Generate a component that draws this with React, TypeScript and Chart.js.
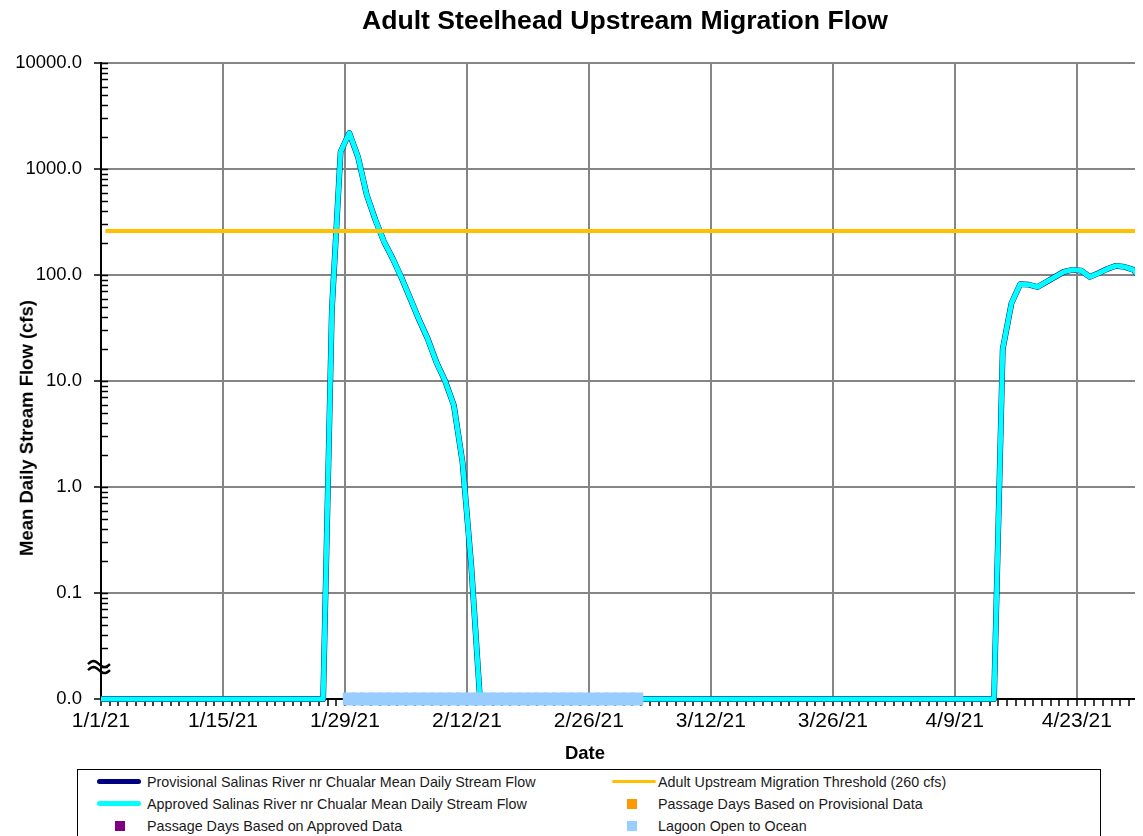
import React, { useEffect, useRef } from 'react';
import { Chart, registerables } from 'chart.js';

Chart.register(...registerables);

// ---------- data ----------
// Day offsets are counted from 1/1/21 (day 0). The series starts on 12/31/20 (day -1).
const firstDay = -1;
// Mean daily stream flow (cfs), approved record, one value per day from 12/31/20 to 4/30/21
const approvedFlow: number[] = [
  0, 0, 0, 0, 0, 0, 0, 0, 0, 0,
  0, 0, 0, 0, 0, 0, 0, 0, 0, 0,
  0, 0, 0, 0, 0, 0, 0,
  47, 1450, 2190, 1300, 570, 330, 205, 142, 94, 60, 38, 25, 15, 10, 5.9, 1.7, 0.18,
  0, 0, 0, 0, 0, 0, 0, 0, 0, 0,
  0, 0, 0, 0, 0, 0, 0, 0, 0, 0,
  0, 0, 0, 0, 0, 0, 0, 0, 0, 0,
  0, 0, 0, 0, 0, 0, 0, 0, 0, 0,
  0, 0, 0, 0, 0, 0, 0, 0, 0, 0,
  0, 0, 0, 0, 0, 0, 0, 0, 0, 0,
  20, 54, 82, 81, 77, 86, 96, 107, 112, 110, 96, 104, 114, 122, 119, 112, 88,
];
// Provisional record (same values as the approved record over this window)
const provisionalFlow: number[] = approvedFlow.slice();
// Days on which the lagoon was open to the ocean (1/29/21 - 3/3/21)
const lagoonOpenDays: number[] = [
  28, 29, 30, 31, 32, 33, 34, 35, 36, 37, 38, 39, 40, 41, 42, 43, 44,
  45, 46, 47, 48, 49, 50, 51, 52, 53, 54, 55, 56, 57, 58, 59, 60, 61,
];
const passageDaysApproved: number[] = [];
const passageDaysProvisional: number[] = [];
const thresholdCfs = 260;

const tickDays: number[] = [0, 14, 28, 42, 56, 70, 84, 98, 112];
const tickLabels: string[] = ['1/1/21', '1/15/21', '1/29/21', '2/12/21', '2/26/21', '3/12/21', '3/26/21', '4/9/21', '4/23/21'];

const Y_MIN = 0.01;
const Y_MAX = 10000;
const X_MAX = 119.6;

// ---------- styles ----------
const FONT = '"Liberation Sans", Arial, sans-serif';
const GRID = '#858585';
const CYAN = '#00FFFF';
const NAVY = '#000080';
const GOLD = '#FFC000';
const LAGOON = '#99CCFF';
const PURPLE = '#800080';
const ORANGE = '#FF9900';

const isDecade = (v: number) => {
  const l = Math.log10(v);
  return Math.abs(l - Math.round(l)) < 1e-7;
};

const innerTicksPlugin = {
  id: 'innerTicks',
  beforeDatasetsDraw(chart: any) {
    const y = chart.scales.y;
    const ctx = chart.ctx;
    const left = chart.chartArea.left;
    ctx.save();
    ctx.strokeStyle = '#000';
    ctx.lineWidth = 1.5;
    y.ticks.forEach((t: any) => {
      const py = Math.round(y.getPixelForValue(t.value)) + 0.5;
      ctx.beginPath();
      ctx.moveTo(left, py);
      ctx.lineTo(left + 7, py);
      ctx.stroke();
    });
    ctx.restore();
  },
  afterDraw(chart: any) {
    // axis break symbol just above the zero line
    const ctx = chart.ctx;
    const cx = chart.chartArea.left - 2;
    const cy = chart.scales.y.getPixelForValue(0.02);
    ctx.save();
    ctx.strokeStyle = '#000';
    ctx.lineWidth = 2.5;
    [-3, 3].forEach((dy) => {
      ctx.beginPath();
      for (let i = 0; i <= 20; i++) {
        const px = cx - 11 + i * 1.1;
        const py = cy + dy - 3 * Math.sin((i / 20) * Math.PI * 2);
        if (i === 0) ctx.moveTo(px, py);
        else ctx.lineTo(px, py);
      }
      ctx.stroke();
    });
    ctx.restore();
  },
};

function LegendLine({ x, y, color, w }: { x: number; y: number; color: string; w: number }) {
  return (
    <div
      style={{
        position: 'absolute',
        left: x,
        top: y - w / 2,
        width: 44,
        height: w,
        borderRadius: w / 2,
        background: color,
      }}
    />
  );
}

function LegendSquare({ x, y, color }: { x: number; y: number; color: string }) {
  return <div style={{ position: 'absolute', left: x - 5, top: y - 5, width: 10, height: 10, background: color }} />;
}

function LegendText({ x, y, text }: { x: number; y: number; text: string }) {
  return (
    <div
      style={{
        position: 'absolute',
        left: x,
        top: y,
        transform: 'translateY(-50%)',
        fontFamily: FONT,
        fontSize: 14.3,
        lineHeight: 1,
        whiteSpace: 'nowrap',
        color: '#1a1a1a',
      }}
    >
      {text}
    </div>
  );
}

export default function App() {
  const ref = useRef<HTMLCanvasElement>(null);

  useEffect(() => {
    document.documentElement.style.overflow = 'hidden';
    const days = approvedFlow.map((_, i) => firstDay + i);
    const axisDays = days.filter((d) => d >= 0 && d <= X_MAX);
    const pt = (d: number, v: number) => ({ x: d + 0.5, y: v > Y_MIN ? v : Y_MIN });

    const chart = new Chart(ref.current as HTMLCanvasElement, {
      type: 'line',
      data: {
        datasets: [
          {
            label: 'Adult Upstream Migration Threshold (260 cfs)',
            data: axisDays.map((d) => pt(d, thresholdCfs)),
            borderColor: GOLD,
            borderWidth: 4,
            pointRadius: 0,
            order: 0,
          },
          {
            label: 'Lagoon Open to Ocean',
            data: lagoonOpenDays.map((d) => pt(d, Y_MIN)),
            showLine: false,
            pointStyle: 'rect',
            pointRadius: 9.2,
            pointBackgroundColor: LAGOON,
            pointBorderWidth: 0,
            borderColor: LAGOON,
            backgroundColor: LAGOON,
            clip: false,
            order: 1,
          },
          {
            label: 'Passage Days Based on Approved Data',
            data: passageDaysApproved.map((d) => pt(d, Y_MIN)),
            showLine: false,
            pointStyle: 'rect',
            pointRadius: 7,
            backgroundColor: PURPLE,
            borderColor: PURPLE,
            order: 1,
          },
          {
            label: 'Passage Days Based on Provisional Data',
            data: passageDaysProvisional.map((d) => pt(d, Y_MIN)),
            showLine: false,
            pointStyle: 'rect',
            pointRadius: 7,
            backgroundColor: ORANGE,
            borderColor: ORANGE,
            order: 1,
          },
          {
            label: 'Approved Salinas River nr Chualar Mean Daily Stream Flow',
            data: approvedFlow.map((v, i) => pt(days[i], v)),
            borderColor: CYAN,
            borderWidth: 5,
            pointRadius: 0,
            tension: 0,
            borderJoinStyle: 'round',
            borderCapStyle: 'round',
            clip: { left: 0, right: 0, top: 5, bottom: 5 },
            order: 2,
          },
          {
            label: 'Provisional Salinas River nr Chualar Mean Daily Stream Flow',
            data: provisionalFlow.map((v, i) => pt(days[i], v)),
            borderColor: NAVY,
            borderWidth: 5.8,
            pointRadius: 0,
            tension: 0,
            borderJoinStyle: 'round',
            borderCapStyle: 'round',
            clip: { left: 0, right: 0, top: 5, bottom: 5 },
            order: 3,
          },
        ],
      },
      options: {
        responsive: false,
        animation: false,
        devicePixelRatio: 1,
        events: [],
        layout: { autoPadding: false, padding: { top: 55, left: 0, right: 0, bottom: 0 } },
        plugins: {
          legend: { display: false },
          title: { display: false },
          tooltip: { enabled: false },
        },
        scales: {
          x: {
            type: 'linear',
            min: 0,
            max: X_MAX,
            afterBuildTicks: (s: any) => {
              s.ticks = axisDays.map((v) => ({ value: v }));
            },
            afterFit: (s: any) => {
              s.height = 137;
              s.paddingLeft = 0;
              s.paddingRight = 0;
            },
            grid: {
              color: (c: any) => (c.tick && tickDays.includes(c.tick.value) ? GRID : 'rgba(0,0,0,0)'),
              lineWidth: 2,
              tickColor: '#000',
              tickLength: 7,
              tickWidth: 1.5,
            },
            border: { color: '#000', width: 2 },
            ticks: {
              autoSkip: false,
              maxRotation: 0,
              minRotation: 0,
              padding: 3,
              color: '#000',
              font: { family: FONT, size: 21 },
              callback: (v: any) => {
                const i = tickDays.indexOf(Number(v));
                return i >= 0 ? tickLabels[i] : '';
              },
            },
          },
          y: {
            type: 'logarithmic',
            min: Y_MIN,
            max: Y_MAX,
            afterBuildTicks: (s: any) => {
              const t: any[] = [];
              const e0 = Math.round(Math.log10(Y_MIN));
              const e1 = Math.round(Math.log10(Y_MAX));
              for (let e = e0; e < e1; e++) {
                for (let m = 1; m <= 9; m++) t.push({ value: Number((m * Math.pow(10, e)).toPrecision(6)) });
              }
              t.push({ value: Y_MAX });
              s.ticks = t;
            },
            afterFit: (s: any) => {
              s.width = 93;
              s.paddingTop = 0;
              s.paddingBottom = 0;
            },
            grid: {
              color: (c: any) => (c.tick && isDecade(c.tick.value) ? GRID : 'rgba(0,0,0,0)'),
              lineWidth: 2,
              tickColor: (c: any) => (c.tick && isDecade(c.tick.value) ? '#000' : 'rgba(0,0,0,0)'),
              tickLength: 7,
              tickWidth: 1.5,
            },
            border: { color: '#000', width: 2 },
            ticks: {
              autoSkip: false,
              padding: 12,
              color: '#000',
              font: { family: FONT, size: 18.5 },
              callback: (v: any) => (isDecade(Number(v)) ? Number(v).toFixed(1) : ''),
            },
          },
        },
      },
      plugins: [innerTicksPlugin],
    } as any);

    return () => chart.destroy();
  }, []);

  // legend geometry (relative to the legend box)
  const rows = [11.5, 33.5, 56];
  const leftLineX = 19;
  const leftTextX = 69;
  const rightLineX = 534;
  const rightTextX = 580;

  return (
    <div style={{ position: 'relative', width: 1135, height: 828, overflow: 'hidden', background: '#fff' }}>
      <canvas ref={ref} width={1135} height={828} style={{ position: 'absolute', left: 0, top: 0, width: 1135, height: 828 }} />
      <div
        style={{
          position: 'absolute',
          left: 617,
          top: 12,
          transform: 'translate(-50%, -50%)',
          fontFamily: FONT,
          fontWeight: 'bold',
          fontSize: 26.6,
          lineHeight: 1,
          whiteSpace: 'nowrap',
          color: '#000',
        }}
      >
        Adult Steelhead Upstream Migration Flow
      </div>
      <div
        style={{
          position: 'absolute',
          left: 19,
          top: 420,
          transform: 'translate(-50%, -50%) rotate(-90deg)',
          fontFamily: FONT,
          fontWeight: 'bold',
          fontSize: 18.5,
          lineHeight: 1,
          whiteSpace: 'nowrap',
          color: '#000',
        }}
      >
        Mean Daily Stream Flow (cfs)
      </div>
      <div
        style={{
          position: 'absolute',
          left: 577,
          top: 745,
          transform: 'translate(-50%, -50%)',
          fontFamily: FONT,
          fontWeight: 'bold',
          fontSize: 18.5,
          lineHeight: 1,
          whiteSpace: 'nowrap',
          color: '#000',
        }}
      >
        Date
      </div>
      <div
        style={{
          position: 'absolute',
          left: 69,
          top: 761,
          width: 1022,
          height: 90,
          border: '1px solid #000',
          background: '#fff',
        }}
      >
        <LegendLine x={leftLineX} y={rows[0]} color={NAVY} w={5} />
        <LegendText x={leftTextX} y={rows[0]} text="Provisional Salinas River nr Chualar Mean Daily Stream Flow" />
        <LegendLine x={leftLineX} y={rows[1]} color={CYAN} w={5} />
        <LegendText x={leftTextX} y={rows[1]} text="Approved Salinas River nr Chualar Mean Daily Stream Flow" />
        <LegendSquare x={42} y={rows[2]} color={PURPLE} />
        <LegendText x={leftTextX} y={rows[2]} text="Passage Days Based on Approved Data" />
        <LegendLine x={rightLineX} y={rows[0]} color={GOLD} w={3} />
        <LegendText x={rightTextX} y={rows[0]} text="Adult Upstream Migration Threshold (260 cfs)" />
        <LegendSquare x={554} y={rows[1]} color={ORANGE} />
        <LegendText x={rightTextX} y={rows[1]} text="Passage Days Based on Provisional Data" />
        <LegendSquare x={554} y={rows[2]} color={LAGOON} />
        <LegendText x={rightTextX} y={rows[2]} text="Lagoon Open to Ocean" />
      </div>
    </div>
  );
}
